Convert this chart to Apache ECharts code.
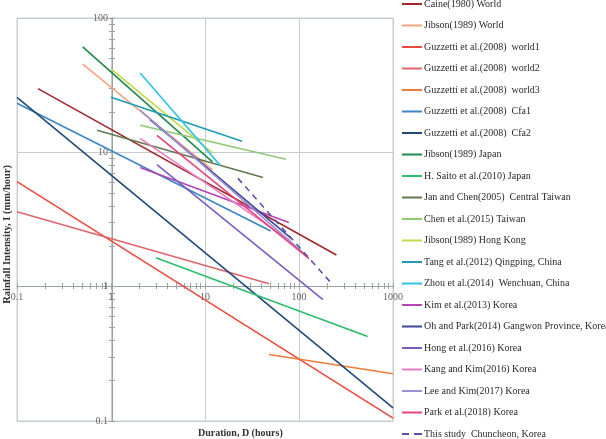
<!DOCTYPE html>
<html>
<head>
<meta charset="utf-8">
<script src="https://cdn.jsdelivr.net/npm/echarts@6/dist/echarts.min.js"></script>
<style>
html, body { margin: 0; padding: 0; background: #fff; }
#main { width: 606px; height: 439px; }
</style>
</head>
<body>
<div id="main"></div>
<script>
// 各研究的名称
var studies = [
    'Caine(1980) World',
    'Jibson(1989) World',
    'Guzzetti et al.(2008)  world1',
    'Guzzetti et al.(2008)  world2',
    'Guzzetti et al.(2008)  world3',
    'Guzzetti et al.(2008)  Cfa1',
    'Guzzetti et al.(2008)  Cfa2',
    'Jibson(1989) Japan',
    'H. Saito et al.(2010) Japan',
    'Jan and Chen(2005)  Central Taiwan',
    'Chen et al.(2015) Taiwan',
    'Jibson(1989) Hong Kong',
    'Tang et al.(2012) Qingping, China',
    'Zhou et al.(2014)  Wenchuan, China',
    'Kim et al.(2013) Korea',
    'Oh and Park(2014) Gangwon Province, Korea',
    'Hong et al.(2016) Korea',
    'Kang and Kim(2016) Korea',
    'Lee and Kim(2017) Korea',
    'Park et al.(2018) Korea',
    'This study  Chuncheon, Korea'
];

// 起点/终点 历时 D (hours) 与 雨强 I (mm/hour)
var startD = [0.167, 0.5, 0.1, 0.1, 48, 0.1, 0.1, 0.5, 3, 0.71, 2.04, 1, 1, 2.04, 2.04, 2.6, 3.08, 2.04, 2.04, 3.08, 22.4];
var startI = [29.8, 45.3, 6.06, 3.61, 0.313, 23.2, 25.7, 61, 1.64, 14.6, 15.9, 41.8, 25.7, 38.9, 7.7, 17.5, 8.1, 12.7, 20.6, 13.4, 6.4];
var endD = [250, 12, 1000, 48, 1000, 50, 1000, 12, 537, 41.4, 72.8, 12, 24.8, 14.5, 78, 82, 180, 80.6, 120, 128, 224];
var endI = [1.72, 7.39, 0.105, 1.05, 0.225, 2.6, 0.125, 8.5, 0.425, 6.5, 8.87, 9.9, 12.1, 8.0, 3.0, 2.3, 0.8, 2.2, 1.7, 1.62, 1.05];

// 线条颜色
var colors = [
    '#a3282e', '#f7a483', '#ec4a3e', '#e0646c', '#f27b3a', '#3b86c6', '#1f4a78',
    '#1f8a4c', '#2cbc6a', '#5f7a4e', '#8ccb74', '#c3d64c', '#1d9cb2', '#2fc2ea',
    '#b444b4', '#3a4896', '#7b5cc4', '#ea7cc2', '#9d8ed4', '#e8427c', '#5a50a8'
];

// 坐标轴刻度
var xMajor = [0.1, 1, 10, 100, 1000];
var yMajor = [0.1, 1, 10, 100];

function allTicks(major) {
    var arr = [];
    major.forEach(function (m, i) {
        if (i === major.length - 1) {
            arr.push(m);
            return;
        }
        for (var k = 1; k < 10; k++) {
            arr.push(+(m * k).toPrecision(3));
        }
    });
    return arr;
}

var serif = '"Liberation Serif", "DejaVu Serif", serif';
var axisGray = '#9aa2a2';

var series = studies.map(function (name, i) {
    return {
        name: name,
        type: 'line',
        symbol: 'none',
        silent: true,
        data: [[startD[i], startI[i]], [endD[i], endI[i]]],
        lineStyle: {
            color: colors[i],
            width: 1.6,
            type: i === studies.length - 1 ? [6, 5] : 'solid'
        },
        itemStyle: { color: colors[i] },
        z: 3
    };
});

// 刻度辅助轴（只画小刻度）
function tickAxis(base, inside, major) {
    return Object.assign({}, base, {
        axisLine: { show: false },
        axisLabel: { show: false },
        splitLine: { show: false },
        axisTick: {
            show: true,
            inside: inside,
            length: 3,
            customValues: allTicks(major),
            lineStyle: { color: axisGray }
        }
    });
}

var xBase = { type: 'log', logBase: 10, min: 0.1, max: 1000, position: 'bottom', offset: -135 };
var yBase = { type: 'log', logBase: 10, min: 0.1, max: 100, position: 'left', offset: -95 };

var chart = echarts.init(document.getElementById('main'));

var option = {
    animation: false,
    backgroundColor: '#fff',
    grid: {
        left: 17,
        top: 18,
        width: 376,
        height: 403,
        show: true,
        borderColor: '#cfd2d2',
        borderWidth: 1
    },
    legend: {
        orient: 'vertical',
        left: 402,
        top: -1,
        padding: 0,
        itemWidth: 20,
        itemHeight: 14,
        itemGap: 11.5,
        icon: 'path://M0,6 L20,6 L20,8 L0,8 Z',
        selectedMode: false,
        textStyle: {
            fontFamily: serif,
            fontSize: 10,
            color: '#2a2a2a',
            padding: [0, 0, 0, -3]
        },
        data: studies.map(function (name, i) {
            if (i === studies.length - 1) {
                return { name: name, icon: 'path://M0,6 L7,6 L7,8 L0,8 Z M12,6 L20,6 L20,8 L12,8 Z' };
            }
            return { name: name };
        })
    },
    xAxis: [
        Object.assign({}, xBase, {
            axisLine: { show: true, lineStyle: { color: axisGray, width: 1 } },
            axisTick: { show: false },
            axisLabel: {
                fontFamily: serif,
                fontSize: 10,
                color: '#666',
                margin: 6,
                formatter: function (v) { return String(+v.toPrecision(3)); }
            },
            splitLine: { show: true, lineStyle: { color: '#c6cbcb', width: 1 } }
        }),
        tickAxis(xBase, true, xMajor),
        tickAxis(xBase, false, xMajor)
    ],
    yAxis: [
        Object.assign({}, yBase, {
            axisLine: { show: true, lineStyle: { color: axisGray, width: 1 } },
            axisTick: { show: false },
            axisLabel: {
                fontFamily: serif,
                fontSize: 10,
                color: '#666',
                margin: 4,
                formatter: function (v) { return String(+v.toPrecision(3)); }
            },
            splitLine: { show: true, lineStyle: { color: '#c6cbcb', width: 1 } }
        }),
        tickAxis(yBase, true, yMajor),
        tickAxis(yBase, false, yMajor)
    ],
    graphic: [
        {
            type: 'text',
            left: 2,
            top: 165,
            rotation: Math.PI / 2,
            style: {
                text: 'Rainfall Intensity, I (mm/hour)',
                fontFamily: serif,
                fontSize: 10.5,
                fontWeight: 'bold',
                fill: '#333'
            }
        },
        {
            type: 'text',
            left: 198,
            top: 428,
            style: {
                text: 'Duration, D (hours)',
                fontFamily: serif,
                fontSize: 10,
                fontWeight: 'bold',
                fill: '#333'
            }
        }
    ],
    series: series
};

chart.setOption(option);
</script>
</body>
</html>
